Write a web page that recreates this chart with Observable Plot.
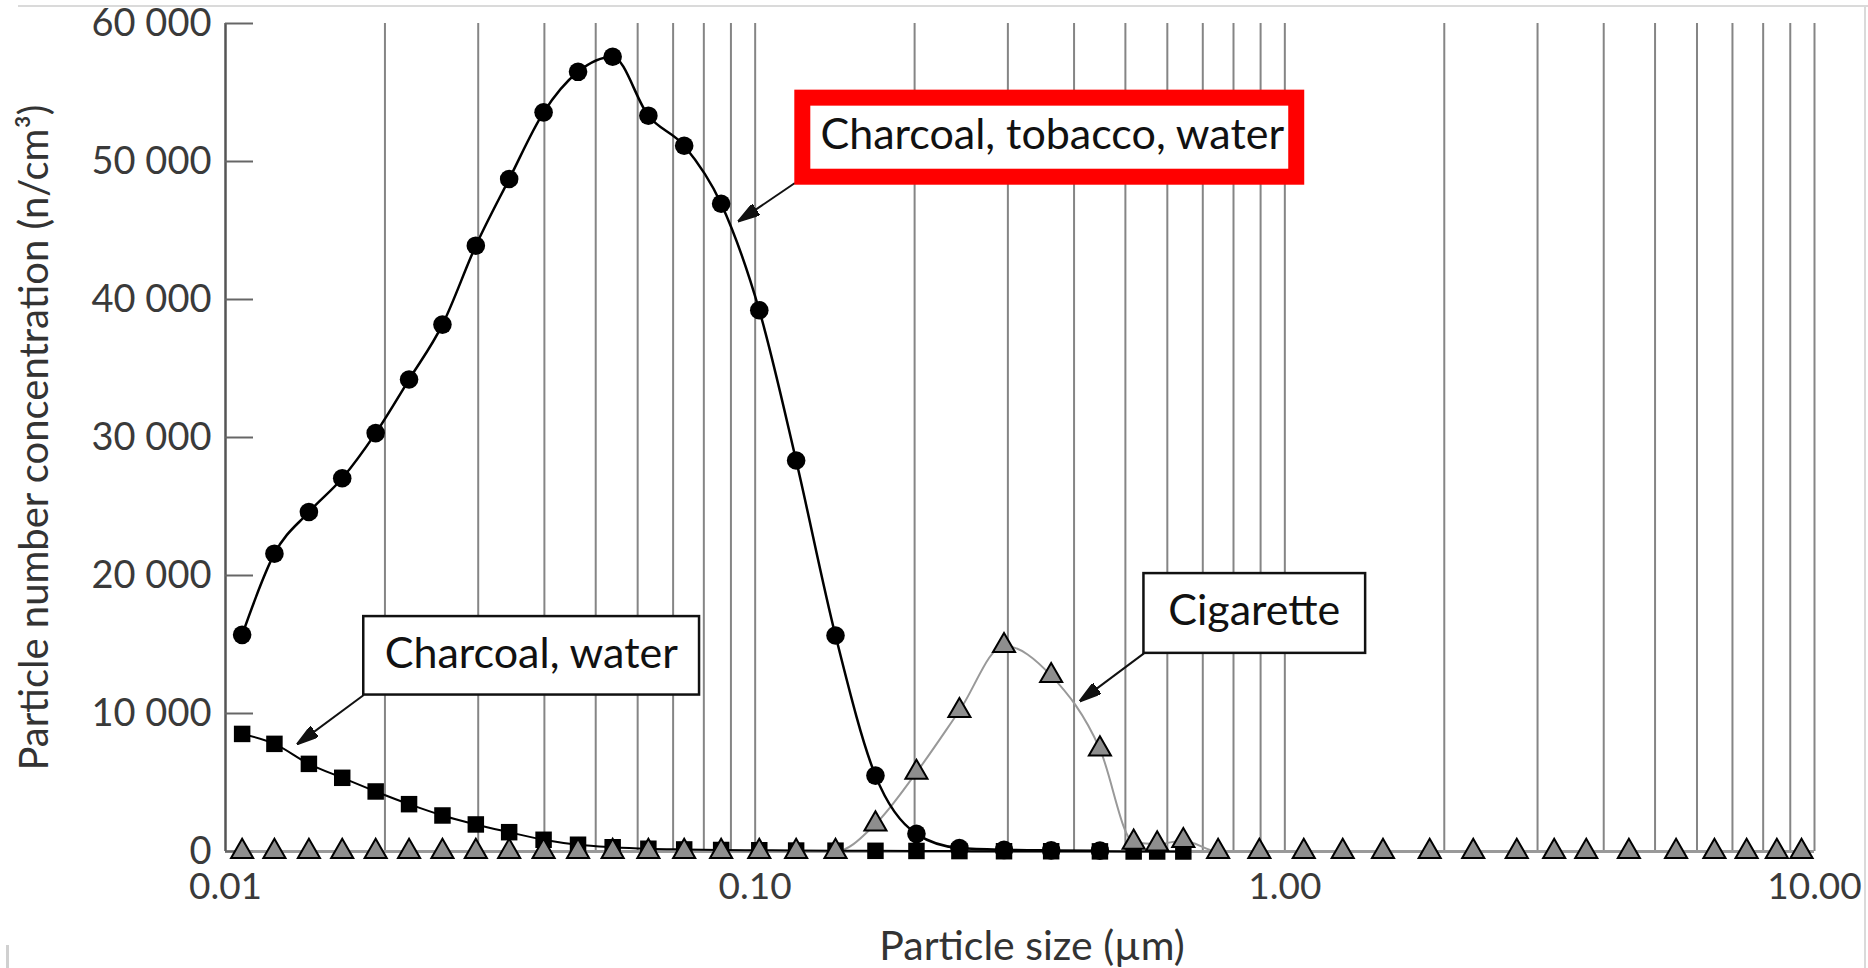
<!DOCTYPE html>
<html>
<head>
<meta charset="utf-8">
<script src="https://cdn.jsdelivr.net/npm/d3@7"></script>
<script src="https://cdn.jsdelivr.net/npm/@observablehq/plot@0.6"></script>
<style>
html,body{margin:0;padding:0;background:#fff;}
#wrap{position:relative;width:1868px;height:968px;overflow:hidden;background:#fff;}
#frameTop{position:absolute;left:18px;top:5px;width:1850px;height:0;border-top:2px solid #dadada;}
#frameRight{position:absolute;left:1864px;top:5px;width:0;height:963px;border-left:2px solid #dadada;}
#frameLeft{position:absolute;left:6px;top:945px;width:0;height:23px;border-left:3px solid #d0d0d0;}
g[aria-label="highlight"]{filter:drop-shadow(3px 4px 4px rgba(0,0,0,0.35));}
</style>
</head>
<body>
<div id="wrap"><div id="frameTop"></div><div id="frameRight"></div><div id="frameLeft"></div></div>
<script>
// Particle sizes (µm) of the measurement channels
const sizes = [0.01075, 0.01237, 0.01437, 0.01661, 0.01921, 0.02221, 0.02568, 0.02969, 0.03432, 0.03986,
  0.04630, 0.05382, 0.06286, 0.07345, 0.08625, 0.1018, 0.1195, 0.1418, 0.1687, 0.2016,
  0.2430, 0.2950, 0.3621, 0.4476];
const largeSizes = [0.5183, 0.5741, 0.6432, 0.7482, 0.8951, 1.0858, 1.2862, 1.5322, 1.8770, 2.2683,
  2.7408, 3.2250, 3.7077, 4.4621, 5.4786, 6.4727, 7.4447, 8.4901, 9.4514];

// Series values (n/cm3)
const charcoalTobaccoWater = [15700, 21580, 24600, 27050, 30320, 34200, 38180, 43900, 48730, 53560,
  56500, 57590, 53320, 51140, 46940, 39220, 28330, 15650, 5500, 1280, 250, 120, 80, 60];
const charcoalWater = [8520, 7800, 6350, 5340, 4350, 3430, 2610, 1960, 1400, 850,
  490, 310, 200, 150, 110, 90, 70, 60, 50, 40, 30, 20, 20, 10, 0, 0, 0];
const cigarette = [0, 0, 0, 0, 0, 0, 0, 0, 0, 0, 0, 0, 0, 0, 0, 0, 0, 0,
  1990, 5730, 10200, 14910, 12740, 7420,
  665, 540, 785, 0, 0, 0, 0, 0, 0, 0, 0, 0, 0, 0, 0, 0, 0, 0, 0];

// Axes
const yTicks = [0, 10000, 20000, 30000, 40000, 50000, 60000];
const xTicks = [0.01, 0.1, 1, 10];
const xTickLabels = ["0.01", "0.10", "1.00", "10.00"];
const gridSizes = [0.02, 0.03, 0.04, 0.05, 0.06, 0.07, 0.08, 0.09,
  0.1, 0.2, 0.3, 0.4, 0.5, 0.6, 0.7, 0.8, 0.9,
  1, 2, 3, 4, 5, 6, 7, 8, 9, 10];
const xLabel = "Particle size (µm)";
const yLabel = "Particle number concentration (n/cm³)";

// Annotation boxes (data coordinates)
const notes = [
  {label: "Charcoal, water", x1: 0.01824, x2: 0.07852, y1: 11337, y2: 17023, tx: 0.03778, ty: 14330,
   ax1: 0.01824, ay1: 11337, ax2: 0.01369, ay2: 7802, highlight: false},
  {label: "Cigarette", x1: 0.5420, x2: 1.4208, y1: 14358, y2: 20138, tx: 0.8756, ty: 17400,
   ax1: 0.5420, ay1: 14358, ax2: 0.4110, ay2: 10917, highlight: false},
  {label: "Charcoal, tobacco, water", x1: 0.12301, x2: 1.0531, y1: 48861, y2: 54590, tx: 0.3638, ty: 51900,
   ax1: 0.11885, ay1: 48441, ax2: 0.09312, ay2: 45681, highlight: true}
];

const tables = {
  ctw: sizes.map((s, i) => ({size: s, value: charcoalTobaccoWater[i]})),
  cw: sizes.concat(largeSizes.slice(0, 3)).map((s, i) => ({size: s, value: charcoalWater[i]})),
  cig: sizes.concat(largeSizes).map((s, i) => ({size: s, value: cigarette[i]}))
};

function arrowHead(color, context) {
  const ns = "http://www.w3.org/2000/svg";
  const m = document.createElementNS(ns, "marker");
  m.setAttribute("viewBox", "0 -6.5 22 13");
  m.setAttribute("refX", "21");
  m.setAttribute("refY", "0");
  m.setAttribute("markerWidth", "22");
  m.setAttribute("markerHeight", "13");
  m.setAttribute("markerUnits", "userSpaceOnUse");
  m.setAttribute("orient", "auto");
  const p = document.createElementNS(ns, "path");
  p.setAttribute("d", "M0,-6.5L22,0L0,6.5Z");
  p.setAttribute("fill", color);
  m.appendChild(p);
  return m;
}

const fmtY = (d) => d3.format(",")(d).replace(",", " ");

function build(marker) {
  return Plot.plot({
    width: 1868, height: 968,
    marginLeft: 225, marginRight: 54, marginTop: 23, marginBottom: 117,
    style: {fontFamily: "Lato, 'Open Sans', sans-serif", background: "transparent", color: "#333"},
    x: {type: "log", domain: [0.01, 10]},
    y: {domain: [0, 60000]},
    marks: [
      Plot.ruleX(gridSizes, {y1: 0, y2: 60000, stroke: "#858585", strokeWidth: 2}),
      Plot.ruleY([0], {x1: 0.01, x2: 10, stroke: "#9a9a9a", strokeWidth: 3}),
      Plot.ruleX([0.01], {y1: 0, y2: 60000, stroke: "#555", strokeWidth: 2.5}),
      Plot.ruleY(yTicks, {insetRight: 1589 - 28, stroke: "#666", strokeWidth: 2}),
      Plot.axisY({ticks: yTicks, tickSize: 0, tickPadding: 14, tickFormat: fmtY, fontSize: 38, label: null, fill: "#3a3a3a"}),
      Plot.axisX({ticks: xTicks, tickSize: 0, tickPadding: 21, tickFormat: (d) => xTickLabels[xTicks.indexOf(d)], fontSize: 37, label: null, fill: "#3a3a3a"}),
      Plot.text([xLabel], {frameAnchor: "bottom", dx: 12, dy: 108, lineAnchor: "bottom", fontSize: 41, fill: "#333"}),
      Plot.text([yLabel], {frameAnchor: "left", textAnchor: "middle", rotate: -90, dx: -190, fontSize: 40, fill: "#333"}),
      Plot.line(tables.cig, {x: "size", y: "value", curve: "monotone-x", stroke: "#999", strokeWidth: 2}),
      Plot.line(tables.cw, {x: "size", y: "value", curve: "monotone-x", stroke: "#000", strokeWidth: 2}),
      Plot.line(tables.ctw, {x: "size", y: "value", curve: "monotone-x", stroke: "#000", strokeWidth: 2.5}),
      Plot.dot(tables.cw, {x: "size", y: "value", symbol: "square", r: 9.3, fill: "#000"}),
      Plot.dot(tables.ctw, {x: "size", y: "value", symbol: "circle", r: 9.3, fill: "#000"}),
      Plot.dot(tables.cig, {x: "size", y: "value", symbol: "triangle", r: 8.2, fill: "#8e8e8e", stroke: "#000", strokeWidth: 2}),
      Plot.link(notes, {x1: "ax1", y1: "ay1", x2: "ax2", y2: "ay2", stroke: "#111", strokeWidth: 2, markerEnd: marker}),
      Plot.rect(notes.filter(d => !d.highlight), {x1: "x1", x2: "x2", y1: "y1", y2: "y2", fill: "white", stroke: "#111", strokeWidth: 2.5}),
      Plot.rect(notes.filter(d => d.highlight), {x1: "x1", x2: "x2", y1: "y1", y2: "y2", fill: "white", stroke: "#ff0000", strokeWidth: 16, ariaLabel: "highlight"}),
      Plot.text(notes, {x: "tx", y: "ty", text: "label", fontSize: 43, fill: "#111", lineAnchor: "middle"})
    ]
  });
}

let chart;
try { chart = build(arrowHead); } catch (e) { chart = build("arrow"); }
chart.style.position = "absolute";
chart.style.left = "0px";
chart.style.top = "0px";
document.getElementById("wrap").appendChild(chart);
</script>
</body>
</html>
